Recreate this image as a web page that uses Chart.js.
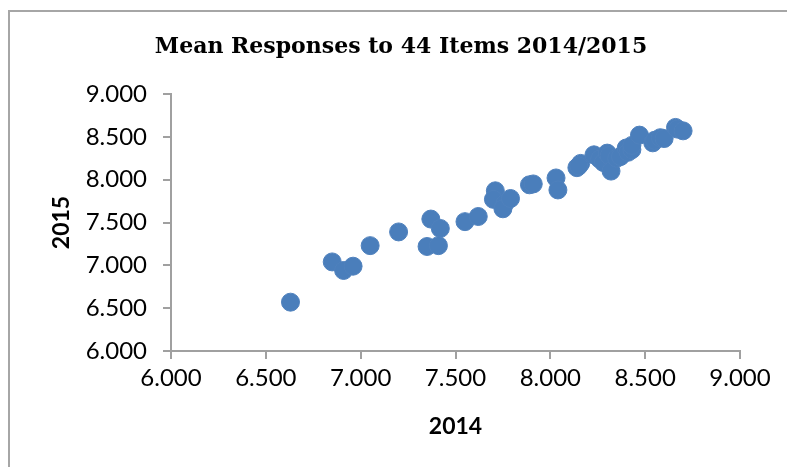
<!DOCTYPE html>
<html>
<head>
<meta charset="utf-8">
<title>Mean Responses to 44 Items 2014/2015</title>
<script src="https://cdn.jsdelivr.net/npm/chart.js@4/dist/chart.umd.min.js"></script>
<style>
  html, body { margin: 0; padding: 0; background: #fff; overflow: hidden; }
  #wrap { position: relative; width: 787px; height: 467px; }
  #c { position: absolute; left: 0; top: 0; }
  #frame {
    position: absolute; left: 8px; top: 10px; width: 900px; height: 600px;
    border: 2px solid #a6a6a6; pointer-events: none;
  }
</style>
</head>
<body>
<div id="wrap">
  <canvas id="c" width="787" height="467"></canvas>
  <div id="frame"></div>
</div>
<script>
// Mean item responses, one entry per item (2014 on x, 2015 on y)
const mean2014 = [
  6.63, 6.85, 6.91, 6.96, 7.05, 7.20, 7.37, 7.42, 7.35, 7.41,
  7.55, 7.62, 7.71, 7.70, 7.76, 7.75, 7.79, 7.89, 7.91, 8.03,
  8.04, 8.14, 8.16, 8.23, 8.26, 8.28, 8.30, 8.31, 8.32, 8.35,
  8.37, 8.40, 8.41, 8.43, 8.43, 8.47, 8.54, 8.55, 8.58, 8.60,
  8.66, 8.67, 8.70, 8.15
];
const mean2015 = [
  6.57, 7.04, 6.94, 6.99, 7.23, 7.39, 7.54, 7.43, 7.22, 7.23,
  7.51, 7.57, 7.87, 7.77, 7.72, 7.66, 7.78, 7.94, 7.95, 8.02,
  7.88, 8.14, 8.19, 8.29, 8.24, 8.20, 8.31, 8.28, 8.10, 8.25,
  8.27, 8.37, 8.32, 8.35, 8.40, 8.52, 8.43, 8.46, 8.49, 8.48,
  8.61, 8.59, 8.57, 8.16
];
const axisMin = 6.0;
const axisMax = 9.0;
const axisStep = 0.5;

const titleText = 'Mean Responses to 44 Items 2014/2015';
const xTitle = '2014';
const yTitle = '2015';

const points = mean2014.map((x, i) => ({ x: x, y: mean2015[i] }));

const axisGray = '#a0a0a0';
const tickFont = { family: 'Lato', size: 24 };
const axisTitleFont = { family: 'Lato', size: 23, weight: 'bold' };
const fmt = v => Number(v).toFixed(3);

// Chart heading, centred over the whole framed area rather than the plot box
const headingPlugin = {
  id: 'heading',
  afterDraw(chart) {
    const ctx = chart.ctx;
    ctx.save();
    ctx.font = 'bold 22px "DejaVu Serif"';
    ctx.fillStyle = '#000';
    ctx.textAlign = 'center';
    ctx.textBaseline = 'middle';
    ctx.fillText(titleText, 401, 47);
    ctx.restore();
  }
};

new Chart(document.getElementById('c'), {
  type: 'scatter',
  data: {
    datasets: [{
      data: points,
      backgroundColor: '#4A7EBB',
      borderColor: '#4F81BD',
      borderWidth: 1,
      pointRadius: 9,
      pointHoverRadius: 9
    }]
  },
  plugins: [headingPlugin],
  options: {
    responsive: false,
    animation: false,
    devicePixelRatio: 1,
    layout: { padding: { left: 0, right: 47, top: 94, bottom: 0 } },
    plugins: {
      legend: { display: false },
      tooltip: { enabled: false },
      title: { display: false }
    },
    scales: {
      x: {
        type: 'linear',
        min: axisMin, max: axisMax,
        afterFit: s => { s.height = 116; },
        border: { display: true, color: axisGray, width: 2 },
        grid: { drawOnChartArea: false, drawTicks: true, tickLength: 8, color: axisGray, lineWidth: 2 },
        ticks: { stepSize: axisStep, color: '#000', font: tickFont, padding: 5, callback: fmt, maxRotation: 0 },
        title: {
          display: true, text: xTitle, color: '#000',
          font: axisTitleFont,
          padding: { top: 0, bottom: 27 }
        }
      },
      y: {
        type: 'linear',
        min: axisMin, max: axisMax,
        afterFit: s => { s.width = 171; },
        border: { display: true, color: axisGray, width: 2 },
        grid: { drawOnChartArea: false, drawTicks: true, tickLength: 8, color: axisGray, lineWidth: 2 },
        ticks: { stepSize: axisStep, color: '#000', font: tickFont, padding: 16, callback: fmt },
        title: {
          display: true, text: yTitle, color: '#000',
          font: axisTitleFont,
          padding: { top: 48, bottom: 0 }
        }
      }
    }
  }
});
</script>
</body>
</html>
